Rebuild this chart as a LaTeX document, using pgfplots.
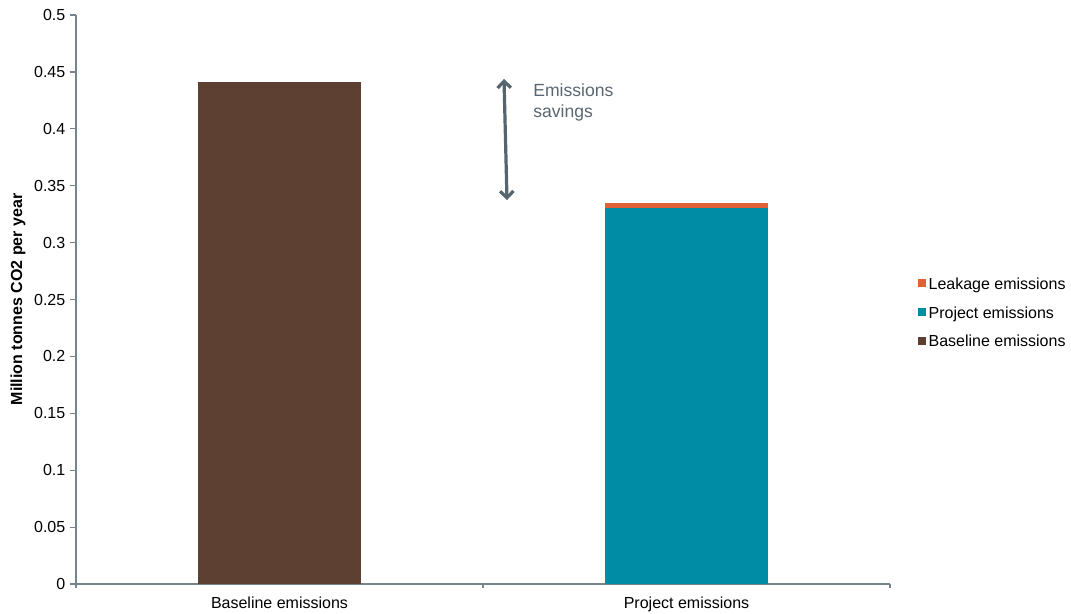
\documentclass[border=0pt]{standalone}
\usepackage{pgfplots}
\pgfplotsset{compat=1.18}
\usepackage{fontspec}
\setmainfont{Liberation Sans}
\usetikzlibrary{arrows.meta}
\definecolor{brownc}{HTML}{5E4033}
\definecolor{tealc}{HTML}{008CA5}
\definecolor{orangec}{HTML}{E0603A}
\definecolor{axisc}{HTML}{75858F}
\definecolor{arrowc}{HTML}{56646E}
\definecolor{textc}{HTML}{5A6670}
\begin{document}
\begin{tikzpicture}
\useasboundingbox (-57pt,-22.5pt) rectangle (746.25pt,438pt);
\begin{axis}[
  at={(0pt,0pt)}, anchor=south west,
  width=610.5pt, height=426.75pt, scale only axis,
  ymin=0, ymax=0.5, xmin=-0.5, xmax=1.5,
  ybar stacked, bar width=122.25pt,
  axis x line*=bottom, axis y line*=left,
  axis line style={axisc, line width=0.9pt},
  every tick/.style={axisc, line width=0.9pt},
  tick align=outside,
  major tick length=4.5pt, minor tick length=3pt,
  xtick={0,1}, xticklabels={Baseline emissions, Project emissions},
  major x tick style={draw=none},
  minor xtick={-0.5,0.5,1.5},
  ytick={0,0.05,0.1,0.15,0.2,0.25,0.3,0.35,0.4,0.45,0.5},
  yticklabels={0,0.05,0.1,0.15,0.2,0.25,0.3,0.35,0.4,0.45,0.5},
  tick label style={font=\fontsize{12pt}{14pt}\selectfont, black},
  xticklabel style={yshift=-2pt},
  ylabel={Million tonnes CO2 per year},
  ylabel style={font=\bfseries\fontsize{12pt}{14pt}\selectfont, at={(axis description cs:-0.0713,0.5)}, anchor=center},
  legend style={at={(rel axis cs:1.034,0.543)}, anchor=north west, draw=none, fill=none,
    font=\fontsize{12pt}{14pt}\selectfont, row sep=7.3pt, inner sep=0pt,
    /tikz/every even column/.append style={column sep=0pt}},
  legend cell align=left,
  reverse legend,
  legend image code/.code={\fill[#1] (0pt,-2pt) rectangle (6pt,4pt);},
]
\addplot[fill=brownc, draw=none] coordinates {(0,0.441) (1,0)};
\addlegendentry{Baseline emissions}
\addplot[fill=tealc, draw=none] coordinates {(0,0) (1,0.330)};
\addlegendentry{Project emissions}
\addplot[fill=orangec, draw=none] coordinates {(0,0) (1,0.0045)};
\addlegendentry{Leakage emissions}
\draw[arrowc, line width=2.4pt, {Straight Barb[length=5pt,width=10pt]}-{Straight Barb[length=5pt,width=10pt]}]
  (axis cs:0.5516,0.4438) -- (axis cs:0.559,0.3374);
\node[anchor=north west, align=left, inner sep=0pt, textc, font=\fontsize{13.2pt}{15.75pt}\selectfont]
  at (axis cs:0.6229,0.4400) {Emissions\\savings};
\end{axis}
\end{tikzpicture}
\end{document}
